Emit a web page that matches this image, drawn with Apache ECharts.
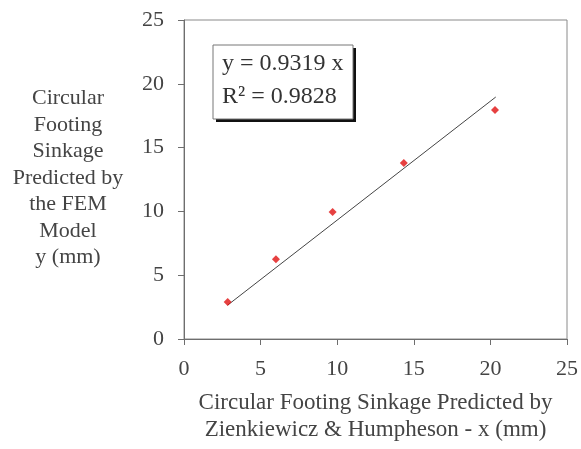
<!DOCTYPE html>
<html>
<head>
<meta charset="utf-8">
<script src="https://cdn.jsdelivr.net/npm/echarts@6/dist/echarts.min.js"></script>
<style>
  html, body { margin: 0; padding: 0; background: #fff; }
  #chart { width: 581px; height: 449px; }
</style>
</head>
<body>
<div id="chart"></div>
<script>
// values
var xValues = [2.85, 6.0, 9.7, 14.35, 20.3];
var yValues = [2.9, 6.25, 9.95, 13.8, 17.95];
var slope = 0.9319;
var rSquared = 0.9828;

var points = xValues.map(function (x, i) { return [x, yValues[i]]; });
var xMin = Math.min.apply(null, xValues);
var xMax = Math.max.apply(null, xValues);
var trend = [[xMin, slope * xMin], [xMax + 0.05, slope * (xMax + 0.05)]];

var serif = '"Liberation Serif", "DejaVu Serif", serif';
var chart = echarts.init(document.getElementById('chart'));
var option = {
  animation: false,
  grid: {
    left: 184, right: 13, top: 20, bottom: 110,
    show: true, borderColor: '#8a8a8a', borderWidth: 1
  },
  xAxis: {
    type: 'value', min: 0, max: 25, interval: 5,
    axisLine: { show: true, lineStyle: { color: '#6e6e6e', width: 1 } },
    axisTick: { show: true, length: 6, lineStyle: { color: '#6e6e6e' } },
    splitLine: { show: false },
    axisLabel: { color: '#444', fontFamily: serif, fontSize: 22, margin: 19 },
    name: 'Circular Footing Sinkage Predicted by\nZienkiewicz & Humpheson - x (mm)',
    nameLocation: 'middle', nameGap: 50,
    nameTextStyle: { color: '#444', fontFamily: serif, fontSize: 23, lineHeight: 27 }
  },
  yAxis: {
    type: 'value', min: 0, max: 25, interval: 5,
    axisLine: { show: true, lineStyle: { color: '#6e6e6e', width: 1 } },
    axisTick: { show: true, length: 6, lineStyle: { color: '#6e6e6e' } },
    splitLine: { show: false },
    axisLabel: { color: '#444', fontFamily: serif, fontSize: 22, margin: 20 }
  },
  graphic: [
    {
      type: 'text', x: 68, y: 85,
      style: {
        text: 'Circular\nFooting\nSinkage\nPredicted by\nthe FEM\nModel\ny (mm)',
        fill: '#444', font: '22px ' + serif, align: 'center', lineHeight: 26.5
      }
    },
    { type: 'rect', shape: { x: 216, y: 48, width: 140, height: 74 }, style: { fill: '#111' } },
    { type: 'rect', shape: { x: 213, y: 45, width: 140, height: 74 }, style: { fill: '#fff', stroke: '#777', lineWidth: 1 } },
    {
      type: 'text', x: 222, y: 52,
      style: { text: 'y = ' + slope.toFixed(4) + ' x', fill: '#333', font: '24px ' + serif }
    },
    {
      type: 'text', x: 222, y: 85,
      style: { text: 'R² = ' + rSquared.toFixed(4), fill: '#333', font: '24px ' + serif }
    }
  ],
  series: [
    {
      type: 'line', data: trend, symbol: 'none',
      lineStyle: { color: '#444', width: 1 }, z: 2
    },
    {
      type: 'scatter', data: points, symbol: 'diamond', symbolSize: 8,
      itemStyle: { color: '#e01010' }, z: 3
    }
  ]
};
chart.setOption(option);
</script>
</body>
</html>
